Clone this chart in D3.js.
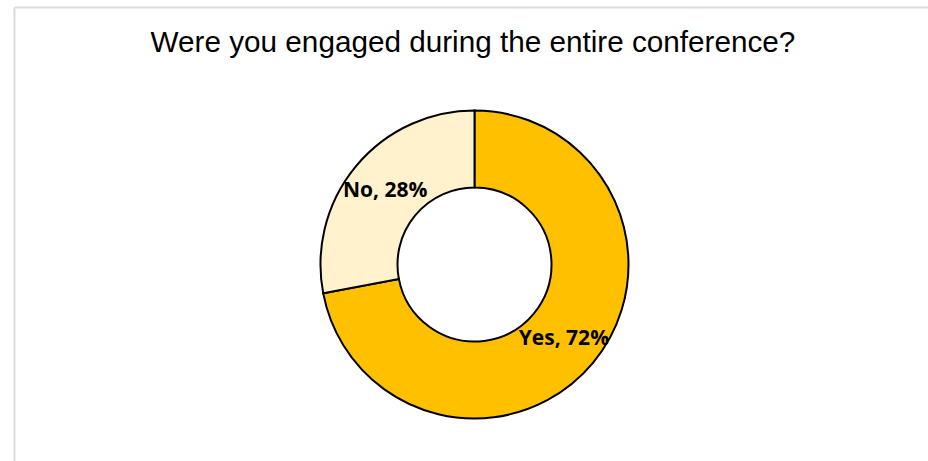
<!DOCTYPE html>
<html>
<head>
<meta charset="utf-8">
<script src="https://cdn.jsdelivr.net/npm/d3@7"></script>
<style>
  body { margin: 0; background: #fff; }
</style>
</head>
<body>
<script>
const categories = ["Yes", "No"]
const values = [72, 28]
const colors = ["#FFC000", "#FFF2CC"]
const title = "Were you engaged during the entire conference?"

const width = 928, height = 461

const svg = d3.select("body").append("svg")
    .attr("width", width)
    .attr("height", height)

// frame
svg.append("line")
    .attr("x1", 14.5).attr("y1", 7.5).attr("x2", width).attr("y2", 7.5)
    .attr("stroke", "#dcdcdc").attr("stroke-width", 2)
svg.append("line")
    .attr("x1", 14.5).attr("y1", 7.5).attr("x2", 14.5).attr("y2", height)
    .attr("stroke", "#dcdcdc").attr("stroke-width", 2)

svg.append("text")
    .attr("x", 473)
    .attr("y", 52)
    .attr("text-anchor", "middle")
    .style("font-family", "'Liberation Sans', Arial, sans-serif")
    .style("font-size", "29.7px")
    .style("fill", "#000")
    .text(title)

const data = categories.map((c, i) => ({ name: c, value: values[i], color: colors[i] }))

const pie = d3.pie().value(d => d.value).sort(null)
const arc = d3.arc().innerRadius(77).outerRadius(154)
const labelArc = d3.arc().innerRadius(116).outerRadius(116)

const g = svg.append("g").attr("transform", "translate(474.5,264.5)")

g.selectAll("path")
    .data(pie(data))
    .enter()
    .append("path")
    .attr("d", arc)
    .style("fill", d => d.data.color)
    .style("stroke", "#000")
    .style("stroke-width", 2)

g.selectAll("text")
    .data(pie(data))
    .enter()
    .append("text")
    .attr("transform", d => "translate(" + labelArc.centroid(d) + ")")
    .attr("dy", "0.33em")
    .attr("text-anchor", "middle")
    .style("font-family", "'Open Sans', Lato, sans-serif")
    .style("font-weight", "bold")
    .style("font-size", "21px")
    .style("fill", "#000")
    .text(d => d.data.name + ", " + d.data.value + "%")
</script>
</body>
</html>
